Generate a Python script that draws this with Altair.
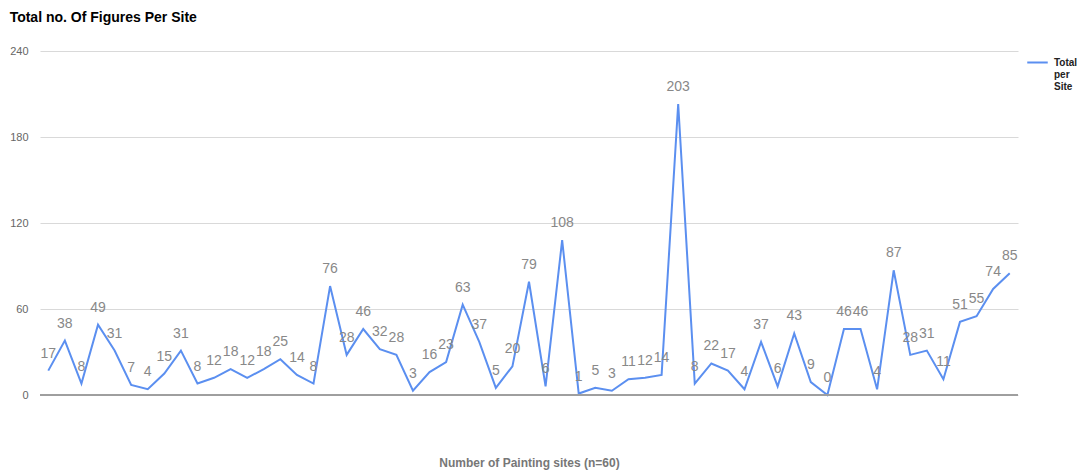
import altair as alt
import pandas as pd

values = [17, 38, 8, 49, 31, 7, 4, 15, 31, 8, 12, 18, 12, 18, 25, 14, 8, 76, 28, 46,
          32, 28, 3, 16, 23, 63, 37, 5, 20, 79, 6, 108, 1, 5, 3, 11, 12, 14, 203, 8,
          22, 17, 4, 37, 6, 43, 9, 0, 46, 46, 4, 87, 28, 31, 11, 51, 55, 74, 85]
sites = list(range(1, len(values) + 1))
series = ["Total per Site"] * len(values)
y_ticks = [0, 60, 120, 180, 240]

df = pd.DataFrame({"site": sites, "total": values, "series": series})

FONT = "Liberation Sans"

x = alt.X("site:O", title="Number of Painting sites (n=60)",
          scale=alt.Scale(type="point", padding=0.5),
          axis=alt.Axis(labels=False, ticks=False, domain=False, grid=False,
                        titleFontWeight="bold", titleColor="#777777", titleFontSize=12,
                        titlePadding=62, titleFont=FONT))
y = alt.Y("total:Q", title=None,
          scale=alt.Scale(domain=[0, 240], nice=False),
          axis=alt.Axis(values=y_ticks, domain=False, ticks=False, labelColor="#666666",
                        labelFontSize=11, labelPadding=12, grid=True,
                        gridColor="#d9d9d9", gridWidth=1, labelFont=FONT))

line = alt.Chart(df).mark_line(strokeWidth=2).encode(
    x=x, y=y,
    color=alt.Color("series:N", scale=alt.Scale(range=["#5b8ff0"]),
                    legend=alt.Legend(title=None, orient="right", offset=8,
                                      symbolType="stroke", symbolSize=420,
                                      symbolStrokeWidth=2, labelOffset=5,
                                      labelFontWeight="bold", labelFontSize=10,
                                      labelColor="#222222", labelFont=FONT,
                                      labelExpr="split(datum.label, ' ')")))

labels = alt.Chart(df).mark_text(dy=-17, fontSize=14, color="#888888", font=FONT).encode(
    x=alt.X("site:O", scale=alt.Scale(type="point", padding=0.5)),
    y="total:Q",
    text="total:Q")

zero = alt.Chart(df).mark_rule(color="#9e9e9e", strokeWidth=1).encode(
    y=alt.datum(0))

chart = alt.layer(line, zero, labels).properties(
    width=978, height=344,
    title=alt.TitleParams("Total no. Of Figures Per Site", anchor="start", fontSize=14,
                          fontWeight="bold", color="#000000", font=FONT, offset=20),
    autosize=alt.AutoSizeParams(type="none"),
    padding={"left": 32, "top": 43, "right": 62, "bottom": 78},
).configure_view(stroke=None)

chart.save("out.html", embed_options={"renderer": "svg", "actions": False})
